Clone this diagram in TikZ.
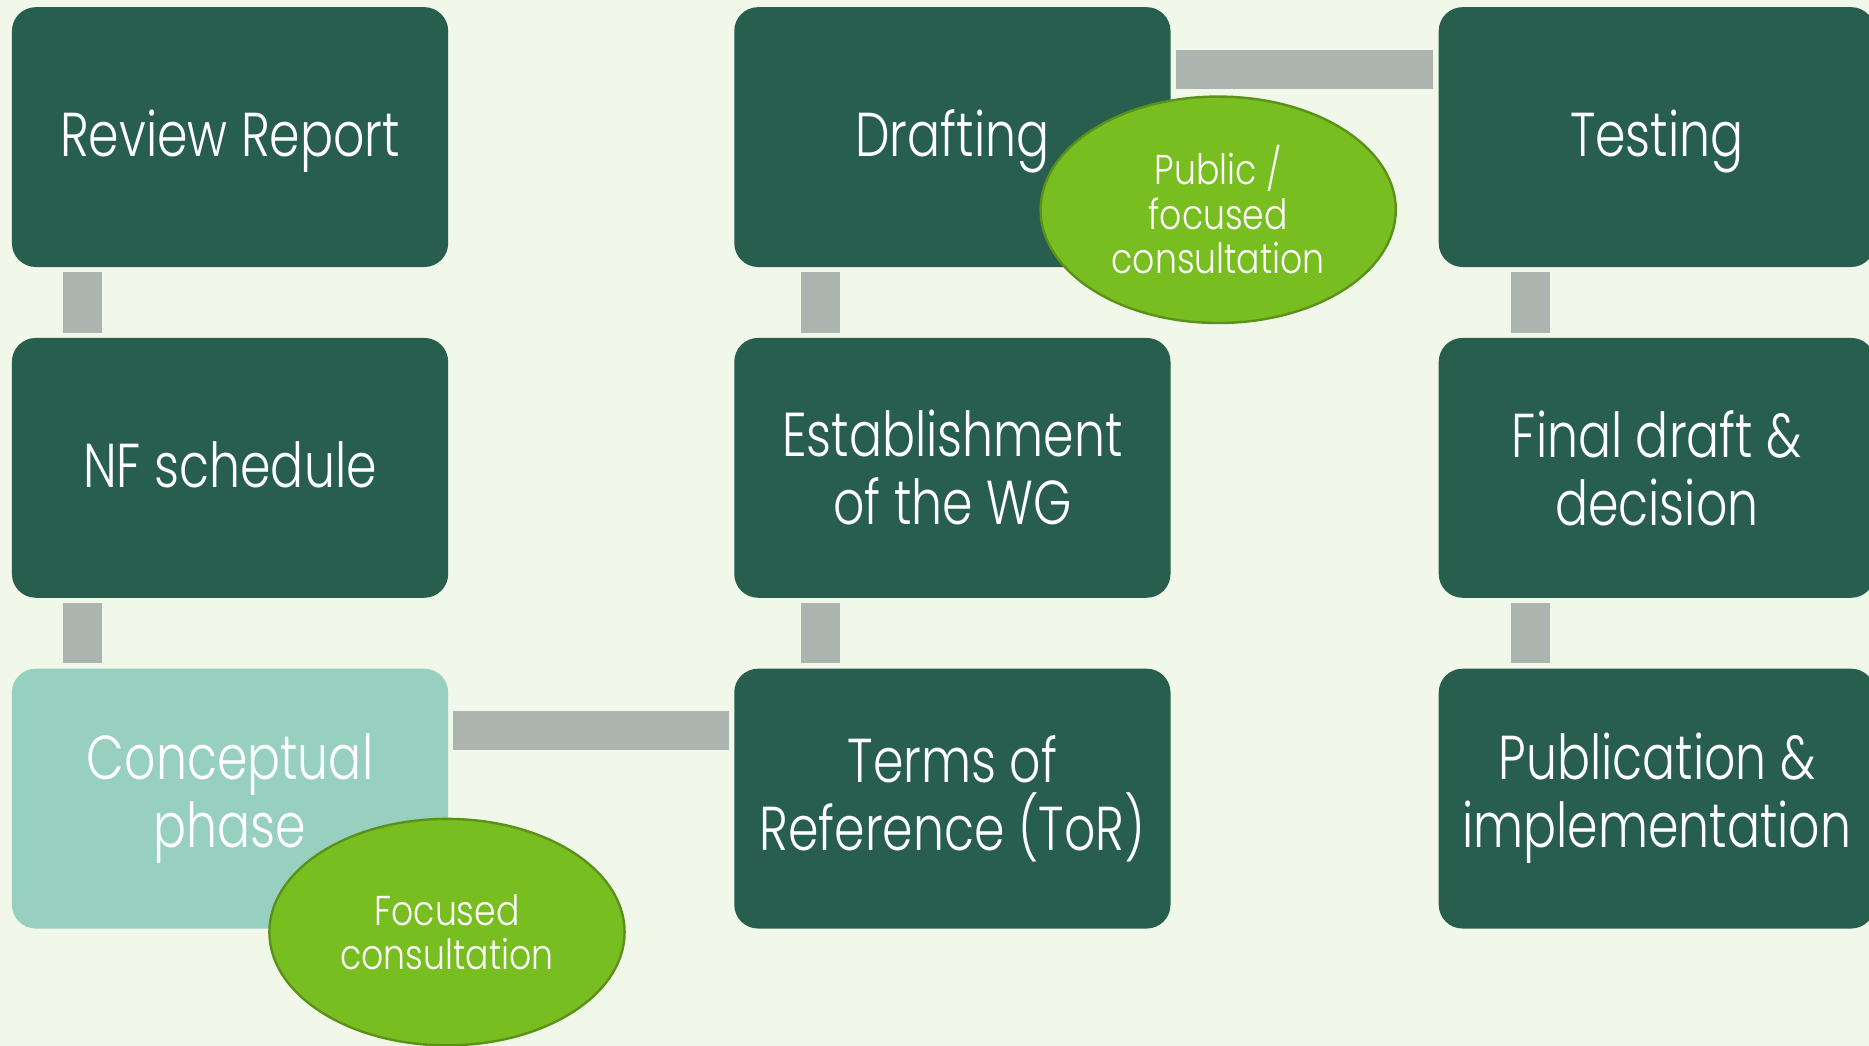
\documentclass[tikz,border=0pt]{standalone}
\usepackage{fontspec}
\setmainfont{Poppins}[UprightFont=* Light, FakeStretch=0.79]
\newfontfamily\ellfont{Poppins}[UprightFont=* Light, FakeStretch=0.83]
\usetikzlibrary{shapes.geometric}
\definecolor{bgc}{RGB}{241,248,233}
\definecolor{dkgreen}{RGB}{40,94,78}
\definecolor{teal}{RGB}{151,208,190}
\definecolor{lime}{RGB}{120,190,33}
\definecolor{limeedge}{RGB}{90,145,25}
\definecolor{conngray}{RGB}{172,180,176}
\begin{document}
\begin{tikzpicture}[x=0.5pt,y=-0.5pt,
  box/.style={rectangle, rounded corners=10pt, fill=dkgreen, minimum width=183pt,
    minimum height=109pt, inner sep=0pt, text=white, align=center,
    font=\fontsize{26}{28.5}\selectfont},
  lightbox/.style={box, fill=teal},
  oneline/.style={text depth=3pt},
  consult/.style={ellipse, fill=lime, draw=limeedge, line width=1pt,
    minimum width=149pt, minimum height=95pt, inner sep=0pt, text=white,
    align=center, font=\ellfont\fontsize{17.5}{18.75}\selectfont},
  conn/.style={draw=conngray, line width=16.5pt, line cap=butt,
    shorten <=2pt, shorten >=2pt}]
\fill[bgc] (0,0) rectangle (1568,877.5);
\useasboundingbox (0,0) rectangle (1568,877.5);

\node[box, oneline] (rr) at (193,115) {Review Report};
\node[box, oneline] (nf) at (193,392.5) {NF schedule};
\node[lightbox] (cp) at (193,670) {Conceptual\\phase};
\node[box, oneline] (dr) at (799,115) {Drafting};
\node[box] (wg) at (799,392.5) {Establishment\\of the WG};
\node[box] (tor) at (799,670) {Terms of\\Reference (ToR)};
\node[box, oneline] (te) at (1390,115) {Testing};
\node[box] (fd) at (1390,392.5) {Final draft \&\\decision};
\node[box] (pi) at (1390,670) {Publication \&\\implementation};

\draw[conn] ([xshift=29.75pt]rr.south west) -- ([xshift=29.75pt]nf.north west);
\draw[conn] ([xshift=29.75pt]nf.south west) -- ([xshift=29.75pt]cp.north west);
\draw[conn] ([yshift=-26.25pt]cp.north east) -- ([yshift=-26.25pt]tor.north west);
\draw[conn] ([xshift=36.25pt]tor.north west) -- ([xshift=36.25pt]wg.south west);
\draw[conn] ([xshift=36.25pt]wg.north west) -- ([xshift=36.25pt]dr.south west);
\draw[conn] ([yshift=-26.25pt]dr.north east) -- ([yshift=-26.25pt]te.north west);
\draw[conn] ([xshift=38.75pt]te.south west) -- ([xshift=38.75pt]fd.north west);
\draw[conn] ([xshift=38.75pt]fd.south west) -- ([xshift=38.75pt]pi.north west);

\node[consult] (pub) at (1022,176) {Public /\\focused\\consultation};
\node[consult] (foc) at (375,782) {Focused\\consultation};
\end{tikzpicture}
\end{document}
